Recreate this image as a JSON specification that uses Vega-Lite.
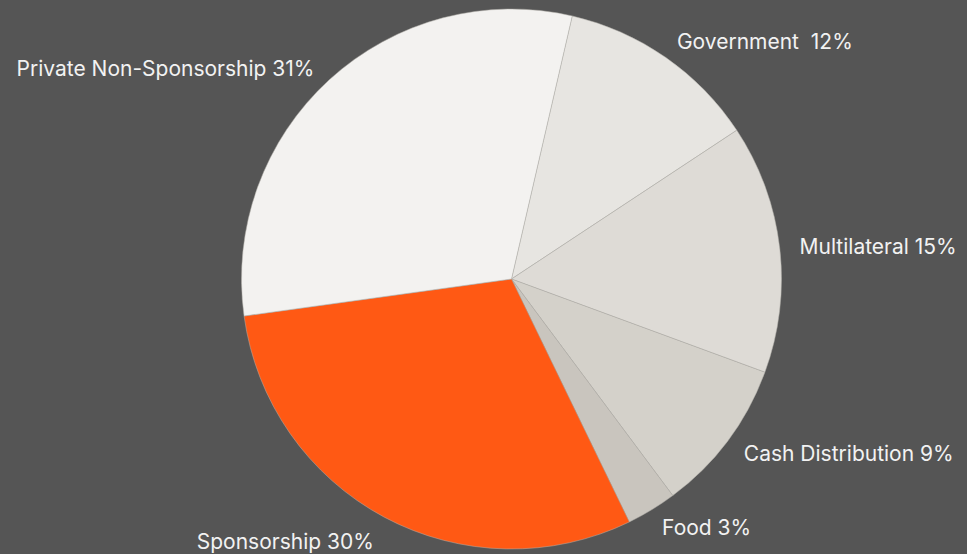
{
  "$schema": "https://vega.github.io/schema/vega-lite/v6.json",
  "width": 911,
  "height": 550,
  "autosize": "none",
  "padding": {"left": 56, "top": 4, "right": 0, "bottom": 0},
  "background": "#555555",
  "config": {"view": {"stroke": null}, "font": "Inter"},
  "data": {
    "values": [
      {"source": "Government", "share": 12.1, "rank": 1, "label": "Government\u00a0 12%"},
      {"source": "Multilateral", "share": 14.9, "rank": 2, "label": "Multilateral 15%"},
      {"source": "Cash Distribution", "share": 9.2, "rank": 3, "label": "Cash Distribution 9%"},
      {"source": "Food", "share": 3.0, "rank": 4, "label": "Food 3%"},
      {"source": "Sponsorship", "share": 30.0, "rank": 5, "label": "Sponsorship 30%"},
      {"source": "Private Non-Sponsorship", "share": 30.8, "rank": 6, "label": "Private Non-Sponsorship 31%"}
    ]
  },
  "transform": [
    {"window": [{"op": "sum", "field": "share", "as": "cum"}], "sort": [{"field": "rank"}], "frame": [null, 0]},
    {"calculate": "datum.cum - datum.share / 2", "as": "mid"}
  ],
  "encoding": {
    "theta": {"field": "share", "type": "quantitative", "stack": true, "scale": {"range": [0.2269, 6.5101]}},
    "order": {"field": "rank", "type": "quantitative"}
  },
  "layer": [
    {
      "mark": {"type": "arc", "radius": 270, "stroke": "#b3b0aa", "strokeWidth": 0.5},
      "encoding": {
        "color": {
          "field": "source",
          "type": "nominal",
          "legend": null,
          "scale": {
            "domain": ["Government", "Multilateral", "Cash Distribution", "Food", "Sponsorship", "Private Non-Sponsorship"],
            "range": ["#e7e5e1", "#dedbd6", "#d4d1ca", "#c9c5be", "#ff5914", "#f3f2f0"]
          }
        }
      }
    },
    {
      "mark": {"type": "text", "radius": 290, "align": "left", "baseline": "middle", "dy": 2, "fontSize": 21, "color": "#f2f2f2"},
      "encoding": {"text": {"condition": {"test": "datum.mid < 50", "field": "label"}, "value": ""}}
    },
    {
      "mark": {"type": "text", "radius": 292, "align": "right", "baseline": "middle", "dy": 6, "fontSize": 21, "color": "#f2f2f2"},
      "encoding": {"text": {"condition": {"test": "datum.mid >= 50", "field": "label"}, "value": ""}}
    }
  ]
}
